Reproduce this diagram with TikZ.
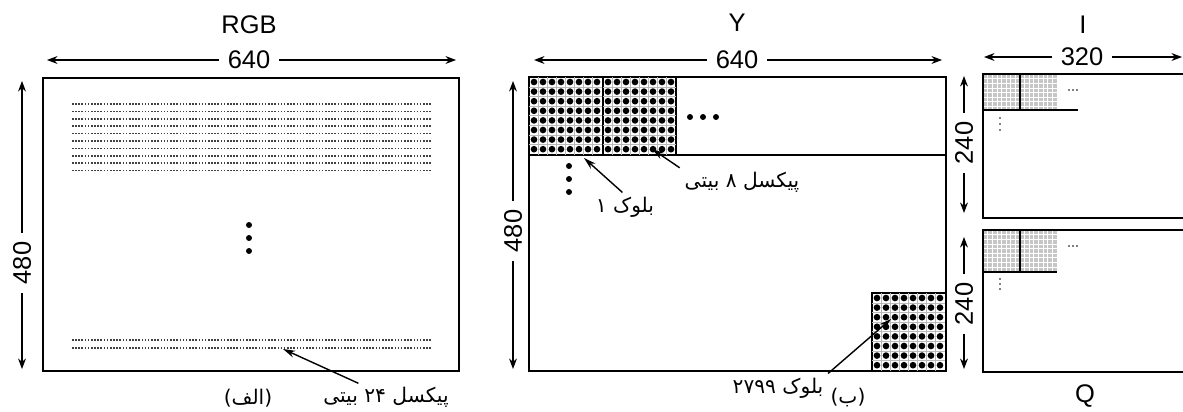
\documentclass[tikz,border=0pt]{standalone}
\usepackage{fontspec}
\setmainfont{Liberation Sans}
\newfontfamily\farsi[Script=Arabic]{DejaVu Sans}
\TeXXeTstate=1
\usetikzlibrary{arrows.meta}

\tikzset{
  lbl/.style={font=\fontsize{14.5}{16}\selectfont, inner sep=1pt},
  dimlbl/.style={lbl, inner sep=5pt},
  dim/.style={-{Stealth[length=6pt,width=4.5pt]}, line width=0.6pt},
  callout/.style={-{Stealth[length=7pt,width=4pt]}, line width=0.8pt, shorten <=2pt},
  frame/.style={line width=1pt},
  pixrow/.style={black!75, line width=1pt, dash pattern=on 0.9pt off 0.9pt},
  fa/.style={font=\farsi\fontsize{11.5}{13}\selectfont, inner sep=1pt},
}

\begin{document}
\begin{tikzpicture}[x=0.02cm,y=-0.02cm]
\useasboundingbox (0,0) rectangle (1183,412);

% RGB frame
\node[lbl] (rgb) at (249,25) {RGB};
\node[dimlbl] (w1) at (249,60) {640};
\coordinate (w1l) at (47,60);
\coordinate (w1r) at (456,60);
\draw[dim] (w1) -- (w1l);
\draw[dim] (w1) -- (w1r);
\node[dimlbl,rotate=90] (h1) at (22,263) {480};
\coordinate (h1t) at (22,81);
\coordinate (h1b) at (22,369);
\draw[dim] (h1) -- (h1t);
\draw[dim] (h1) -- (h1b);
\draw[frame] (43,78) rectangle (459,371);
\foreach \r in {0,...,9}
  \draw[pixrow] (72,104+7.4*\r) -- (432,104+7.4*\r);
\draw[pixrow] (72,340) -- (432,340);
\draw[pixrow] (72,348) -- (432,348);
\fill (249,225) circle (1.7pt) (249,238) circle (1.7pt) (249,251) circle (1.7pt);

% Labels under RGB
\coordinate (row24) at (283,349);
\node[fa] (p24) at (386,397) {\beginR پیکسل \beginL۲۴\endL{} بیتی\endR};
\draw[callout] ([xshift=23pt]p24.north west) -- (row24);
\node[fa] (capa) at (248,398) {\beginR(الف)\endR};

% Y frame
\node[lbl] (ytitle) at (737,23) {Y};
\node[dimlbl] (w2) at (737,60) {640};
\coordinate (w2l) at (534,60);
\coordinate (w2r) at (942,60);
\draw[dim] (w2) -- (w2l);
\draw[dim] (w2) -- (w2r);
\node[dimlbl,rotate=90] (h2) at (513,231) {480};
\coordinate (h2t) at (513,81);
\coordinate (h2b) at (513,369);
\draw[dim] (h2) -- (h2t);
\draw[dim] (h2) -- (h2b);
\draw[frame] (529,77) rectangle (946,371);
\draw[frame] (529,155) -- (946,155);
\draw[line width=0.7pt] (603,77) -- (603,155) (676,77) -- (676,155);
\draw[line width=0.7pt] (872,371) |- (946,293);

% 8x8 blocks
\foreach \bx/\by in {529/77,603/77,872/293} {
  \foreach \k in {1,...,7} {
    \draw[gray!55,line width=0.3pt] (\bx+9.5+9*\k-9,\by) -- (\bx+9.5+9*\k-9,\by+78);
    \draw[gray!55,line width=0.3pt] (\bx,\by+9.8+9.6*\k-9.6) -- (\bx+73,\by+9.8+9.6*\k-9.6);
  }
  \foreach \i in {0,...,7}
    \foreach \j in {0,...,7}
      \fill (\bx+5+9*\i,\by+5+9.6*\j) circle (1.9pt);
}
\fill (690,117) circle (1.7pt) (703,117) circle (1.7pt) (716,117) circle (1.7pt);
\fill (569,166) circle (1.7pt) (569,179) circle (1.7pt) (569,192) circle (1.7pt);

% Labels in Y
\coordinate (blk1) at (584,158);
\node[fa] (lb1) at (625,207) {\beginR بلوک \beginL۱\endL\endR};
\draw[callout] (lb1.north) -- (blk1);
\coordinate (pix8) at (652,149);
\node[fa] (lp8) at (742,182) {\beginR پیکسل \beginL۸\endL{} بیتی\endR};
\draw[callout] (lp8.north west) -- (pix8);
\coordinate (blkN) at (891,319);
\node[fa] (lbN) at (778,388) {\beginR بلوک \beginL۲۷۹۹\endL\endR};
\draw[callout] (lbN.north east) -- (blkN);
\node[fa] (capb) at (848,398) {\beginR(ب)\endR};

% I and Q frames
\node[lbl] (ititle) at (1083,25) {I};
\node[dimlbl] (w3) at (1082,57) {320};
\coordinate (w3l) at (984,57);
\coordinate (w3r) at (1182,57);
\draw[dim] (w3) -- (w3l);
\draw[dim] (w3) -- (w3r);
\node[dimlbl,rotate=90] (h3) at (964,143) {240};
\coordinate (h3t) at (964,76);
\coordinate (h3b) at (964,213);
\draw[dim] (h3) -- (h3t);
\draw[dim] (h3) -- (h3b);
\node[dimlbl,rotate=90] (h4) at (964,304) {240};
\coordinate (h4t) at (964,237);
\coordinate (h4b) at (964,369);
\draw[dim] (h4) -- (h4t);
\draw[dim] (h4) -- (h4b);
\node[lbl] (qtitle) at (1085,396) {Q};

\foreach \by/\bh in {74/36,230/42} {
  \fill[gray!45] (983,\by) rectangle (1057,\by+\bh);
  \foreach \k in {1,...,15}
    \draw[white,line width=0.3pt] (983+4.6*\k,\by) -- (983+4.6*\k,\by+\bh);
  \foreach \k in {1,...,8}
    \draw[white,line width=0.3pt] (983,\by+4.6*\k) -- (1057,\by+4.6*\k);
  \draw[line width=0.6pt] (1020,\by) -- (1020,\by+\bh);
  \fill (1069,\by+16) circle (0.5pt) (1073,\by+16) circle (0.5pt) (1077,\by+16) circle (0.5pt);
}
\draw[line width=0.6pt] (983,110) -- (1078,110);
\draw[line width=0.6pt] (983,272) -- (1057,272);
\fill (1000,118) circle (0.5pt) (1000,124) circle (0.5pt) (1000,130) circle (0.5pt);
\fill (1000,279) circle (0.5pt) (1000,284) circle (0.5pt) (1000,289) circle (0.5pt);
\draw[frame] (1185,74) -| (983,218) -- (1185,218);
\draw[frame] (1185,230) -| (983,372) -- (1185,372);
\end{tikzpicture}
\end{document}
